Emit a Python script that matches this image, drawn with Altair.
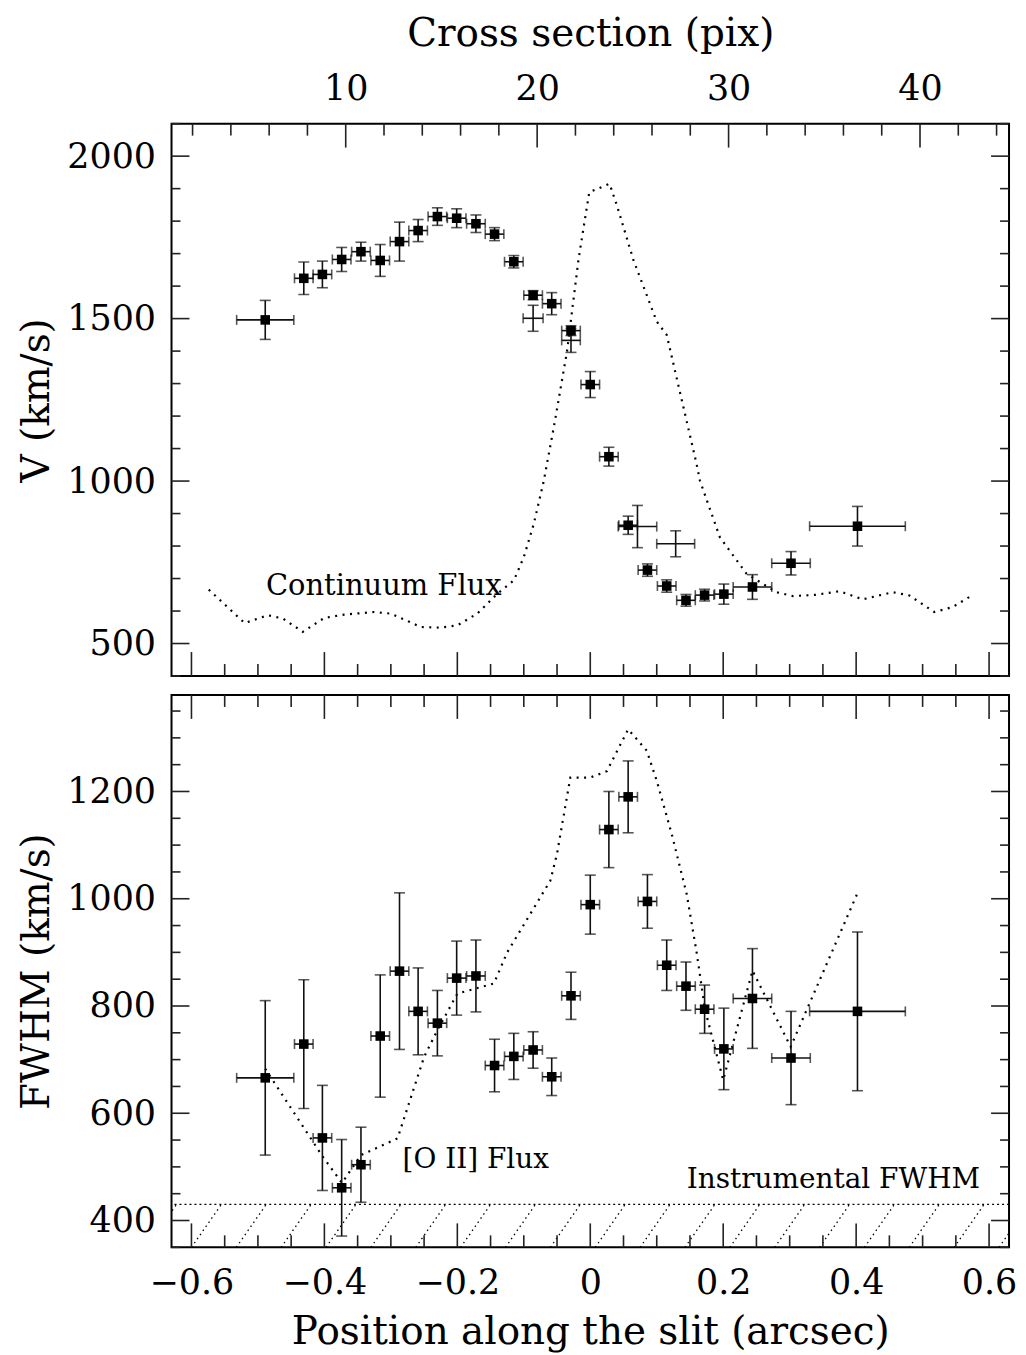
import altair as alt
import pandas as pd

FONT = "DejaVu Serif"
W, H = 840, 554
XDOM = [-0.63, 0.63]
PIXDOM = [0.9, 44.65]
VDOM = [400, 2100]
FDOM = [350, 1380]

# ---------------- data ----------------
pos = [-0.489, -0.431, -0.403, -0.374, -0.345, -0.316, -0.287, -0.259, -0.230,
       -0.201, -0.172, -0.144, -0.115, -0.086, -0.058, -0.029, 0.000, 0.028,
       0.057, 0.086, 0.115, 0.144, 0.172, 0.201, 0.244, 0.302, 0.402]
pos_err = [0.043, 0.014, 0.014, 0.014, 0.014, 0.014, 0.014, 0.014, 0.014,
           0.014, 0.014, 0.014, 0.014, 0.014, 0.014, 0.014, 0.014, 0.014,
           0.014, 0.014, 0.014, 0.014, 0.014, 0.014, 0.029, 0.029, 0.072]

vel = [1496, 1624, 1636, 1682, 1706, 1679, 1737, 1771, 1814, 1809, 1792, 1760,
       1675, 1572, 1546, 1463, 1297, 1075, 864, 726, 677, 633, 649, 652, 674,
       747, 861]
vel_err = [60, 50, 41, 37, 29, 49, 60, 34, 27, 29, 27, 20, 19, 14, 34, 15, 40,
           29, 28, 19, 19, 18, 18, 31, 38, 36, 61]

# secondary (open) velocity measurements
vel2_pos = [-0.086, -0.029, 0.071, 0.1285]
vel2_pos_err = [0.015, 0.014, 0.029, 0.0285]
vel2 = [1501, 1433, 860, 807]
vel2_err = [40, 37, 65, 40]

fwhm = [666, 729, 554, 461, 504, 744, 865, 790, 768, 852, 856, 689, 706, 718,
        668, 819, 989, 1129, 1190, 995, 876, 837, 794, 720, 814, 703, 790]
fwhm_err = [144, 120, 98, 90, 70, 114, 146, 81, 61, 69, 67, 49, 43, 34, 35,
            44, 55, 71, 67, 50, 47, 45, 45, 76, 93, 87, 148]

cont_x = [-0.574, -0.52, -0.485, -0.4625, -0.4325, -0.40, -0.37, -0.325, -0.30,
          -0.255, -0.225, -0.20, -0.17, -0.14, -0.115, -0.10, -0.085, -0.07,
          -0.055, -0.035, -0.0175, -0.0015, 0.029, 0.04, 0.065, 0.10, 0.115,
          0.13, 0.16, 0.165, 0.195, 0.235, 0.28, 0.305, 0.34, 0.375, 0.41,
          0.455, 0.48, 0.5175, 0.545, 0.5725]
cont_y = [666, 563, 587, 577, 536, 579, 589, 597, 592, 551, 549, 556, 592, 653,
          694, 766, 868, 1000, 1164, 1399, 1685, 1889, 1915, 1849, 1680, 1491,
          1450, 1317, 1052, 1001, 827, 715, 658, 646, 650, 661, 636, 658, 648,
          597, 612, 646]

oii_x = [-0.489, -0.4025, -0.3735, -0.345, -0.29, -0.25, -0.23, -0.20, -0.145,
         -0.125, -0.06, -0.05, -0.03, 0.0, 0.025, 0.057, 0.085, 0.10, 0.1225,
         0.145, 0.16, 0.1725, 0.20, 0.244, 0.3015, 0.4015]
oii_y = [683, 519, 470, 522, 553, 705, 755, 823, 842, 900, 1034, 1084, 1226,
         1226, 1238, 1316, 1276, 1220, 1121, 1009, 900, 794, 662, 866, 724, 1009]

instr_fwhm = 430

x_major = [-0.6, -0.4, -0.2, 0.0, 0.2, 0.4, 0.6]
x_minor = [-0.55, -0.5, -0.45, -0.35, -0.3, -0.25, -0.15, -0.1, -0.05,
           0.05, 0.1, 0.15, 0.25, 0.3, 0.35, 0.45, 0.5, 0.55]
pix_major = [10, 20, 30, 40]
pix_minor = [2, 4, 6, 8, 12, 14, 16, 18, 22, 24, 26, 28, 32, 34, 36, 38, 42, 44]
v_major = [500, 1000, 1500, 2000]
v_minor = [400, 600, 700, 800, 900, 1100, 1200, 1300, 1400, 1600, 1700, 1800,
           1900, 2100]
f_major = [400, 600, 800, 1000, 1200]
f_minor = [350, 450, 500, 550, 650, 700, 750, 850, 900, 950, 1050, 1100, 1150,
           1250, 1300, 1350]

# hatch pattern below the instrumental FWHM
hatch_x0 = [-0.6675 + 0.0675 * k for k in range(20)]
hatch_dx = 0.045

# ---------------- frames ----------------
def pts(xs, xe, ys, ye):
    return pd.DataFrame({
        "x": xs, "y": ys,
        "xlo": [a - b for a, b in zip(xs, xe)], "xhi": [a + b for a, b in zip(xs, xe)],
        "ylo": [a - b for a, b in zip(ys, ye)], "yhi": [a + b for a, b in zip(ys, ye)],
    })

def caps(df):
    ycap = pd.concat([df[["x"]].assign(y=df["ylo"]), df[["x"]].assign(y=df["yhi"])])
    xcap = pd.concat([df[["y"]].assign(x=df["xlo"]), df[["y"]].assign(x=df["xhi"])])
    return ycap, xcap

v_df = pts(pos, pos_err, vel, vel_err)
v2_df = pts(vel2_pos, vel2_pos_err, vel2, vel2_err)
f_df = pts(pos, pos_err, fwhm, fwhm_err)

COL = "#111111"
EW = 1.6


def xs(field, indep_axis=None):
    return alt.X(field, type="quantitative",
                 scale=alt.Scale(domain=XDOM, nice=False, zero=False),
                 axis=indep_axis)


def error_layers(df, xenc, yenc, show_marker=True):
    ycap, xcap = caps(df)
    base = alt.Chart(df)
    lay = [
        base.mark_rule(color=COL, strokeWidth=EW).encode(
            x=xenc("x"), y=yenc("ylo"), y2="yhi"),
        base.mark_rule(color=COL, strokeWidth=EW).encode(
            x=xenc("xlo"), x2="xhi", y=yenc("y")),
        alt.Chart(ycap).mark_tick(orient="horizontal", size=11, thickness=EW,
                                  color=COL).encode(x=xenc("x"), y=yenc("y")),
        alt.Chart(xcap).mark_tick(orient="vertical", size=10, thickness=EW,
                                  color=COL).encode(x=xenc("x"), y=yenc("y")),
    ]
    if show_marker:
        lay.append(base.mark_square(size=92, color="black", opacity=1,
                                    filled=True).encode(x=xenc("x"), y=yenc("y")))
    return lay


def tick_layers(xenc, yenc, xmaj, xmin, ymaj, ymin, top_ticks=True, bottom_ticks=True):
    lay = []
    TC = "#222222"
    for vals, ln in ((xmaj, 24), (xmin, 12)):
        d = pd.DataFrame({"t": vals})
        if bottom_ticks:
            lay.append(alt.Chart(d).mark_rule(color=TC, strokeWidth=1.6).encode(
                x=xenc("t"), y=alt.value(H), y2=alt.value(H - ln)))
        if top_ticks:
            lay.append(alt.Chart(d).mark_rule(color=TC, strokeWidth=1.6).encode(
                x=xenc("t"), y=alt.value(0), y2=alt.value(ln)))
    for vals, ln in ((ymaj, 18), (ymin, 9)):
        d = pd.DataFrame({"t": vals})
        lay.append(alt.Chart(d).mark_rule(color=TC, strokeWidth=1.6).encode(
            y=yenc("t"), x=alt.value(0), x2=alt.value(ln)))
        lay.append(alt.Chart(d).mark_rule(color=TC, strokeWidth=1.6).encode(
            y=yenc("t"), x=alt.value(W), x2=alt.value(W - ln)))
    return lay


# ---------------- top panel ----------------
v_axis = alt.Axis(title="V (km/s)", values=v_major, format="d", ticks=False,
                  domain=False, grid=False, labelPadding=16, titlePadding=10)


def yv(field):
    return alt.Y(field, type="quantitative",
                 scale=alt.Scale(domain=VDOM, nice=False, zero=False), axis=v_axis)


def xv(field):
    return xs(field, None)


cont_df = pd.DataFrame({"x": cont_x, "y": cont_y})
top_layers = []
top_layers.append(alt.Chart(cont_df).mark_line(color="black", strokeWidth=2.2,
                                               strokeDash=[2, 5.5]).encode(
    x=xv("x"), y=yv("y"), order="x:Q"))
top_layers += error_layers(v2_df, xv, yv, show_marker=False)
top_layers += error_layers(v_df, xv, yv, show_marker=True)
top_layers.append(alt.Chart(pd.DataFrame({"x": [-0.488], "y": [648],
                                          "t": ["Continuum Flux"]})).mark_text(
    font=FONT, fontSize=29, align="left", baseline="alphabetic", color="black").encode(
    x=xv("x"), y=yv("y"), text="t:N"))
top_layers += tick_layers(xv, yv, x_major, x_minor, v_major, v_minor,
                          top_ticks=False, bottom_ticks=True)

pix_axis = alt.Axis(orient="top", title="Cross section (pix)", values=pix_major,
                    format="d", ticks=False, domain=False, grid=False,
                    labelPadding=17, titlePadding=18)
pscale = alt.Scale(domain=PIXDOM, nice=False, zero=False)
top_layers.append(alt.Chart(pd.DataFrame({"t": pix_major})).mark_rule(
    color="#222222", strokeWidth=1.6).encode(
    x=alt.X("t:Q", scale=pscale, axis=pix_axis), y=alt.value(0), y2=alt.value(24)))
top_layers.append(alt.Chart(pd.DataFrame({"t": pix_minor})).mark_rule(
    color="#222222", strokeWidth=1.6).encode(
    x=alt.X("t:Q", scale=pscale, axis=None), y=alt.value(0), y2=alt.value(12)))

top = alt.layer(*top_layers).resolve_scale(x="independent").properties(width=W, height=H)

# ---------------- bottom panel ----------------
f_axis = alt.Axis(title="FWHM (km/s)", values=f_major, format="d", ticks=False,
                  domain=False, grid=False, labelPadding=16, titlePadding=10)
x_axis = alt.Axis(title="Position along the slit (arcsec)", values=x_major,
                  labelExpr="datum.value == 0 ? '0' : format(datum.value, '.1f')",
                  ticks=False, domain=False, grid=False, labelPadding=18,
                  titlePadding=12)


def yf(field):
    return alt.Y(field, type="quantitative",
                 scale=alt.Scale(domain=FDOM, nice=False, zero=False), axis=f_axis)


def xf(field):
    return xs(field, x_axis)


oii_df = pd.DataFrame({"x": oii_x, "y": oii_y})
hatch_df = pd.DataFrame({"x": hatch_x0, "x2": [h + hatch_dx for h in hatch_x0],
                         "y": [FDOM[0]] * len(hatch_x0),
                         "y2": [instr_fwhm] * len(hatch_x0)})

bot_layers = []
bot_layers.append(alt.Chart(hatch_df).mark_rule(color="black", strokeWidth=1.3,
                                                strokeDash=[1.5, 3.5], clip=True).encode(
    x=xf("x"), x2="x2", y=yf("y"), y2="y2"))
bot_layers.append(alt.Chart(pd.DataFrame({"y": [instr_fwhm]})).mark_rule(
    color="black", strokeWidth=1.2, strokeDash=[2, 3]).encode(y=yf("y")))
bot_layers.append(alt.Chart(oii_df).mark_line(color="black", strokeWidth=2.2,
                                              strokeDash=[2, 5.5]).encode(
    x=xf("x"), y=yf("y"), order="x:Q"))
bot_layers += error_layers(f_df, xf, yf, show_marker=True)
bot_layers.append(alt.Chart(pd.DataFrame({"x": [-0.2825, 0.145], "y": [498, 461],
                                          "t": ["[O II] Flux", "Instrumental FWHM"]})).mark_text(
    font=FONT, fontSize=28, align="left", baseline="alphabetic", color="black").encode(
    x=xf("x"), y=yf("y"), text="t:N"))
bot_layers += tick_layers(xf, yf, x_major, x_minor, f_major, f_minor,
                          top_ticks=True, bottom_ticks=True)

bottom = alt.layer(*bot_layers).properties(width=W, height=H)

chart = alt.vconcat(top, bottom, spacing=15).properties(
    padding={"left": 8, "top": 4, "right": 0, "bottom": 0},
    background="white"
).configure_view(stroke="black", strokeWidth=2).configure_axis(
    labelFont=FONT, labelFontSize=35, labelColor="black",
    titleFont=FONT, titleFontSize=39, titleFontWeight="normal", titleColor="black"
)

chart.save("out.html", embed_options={"renderer": "svg", "actions": False})
